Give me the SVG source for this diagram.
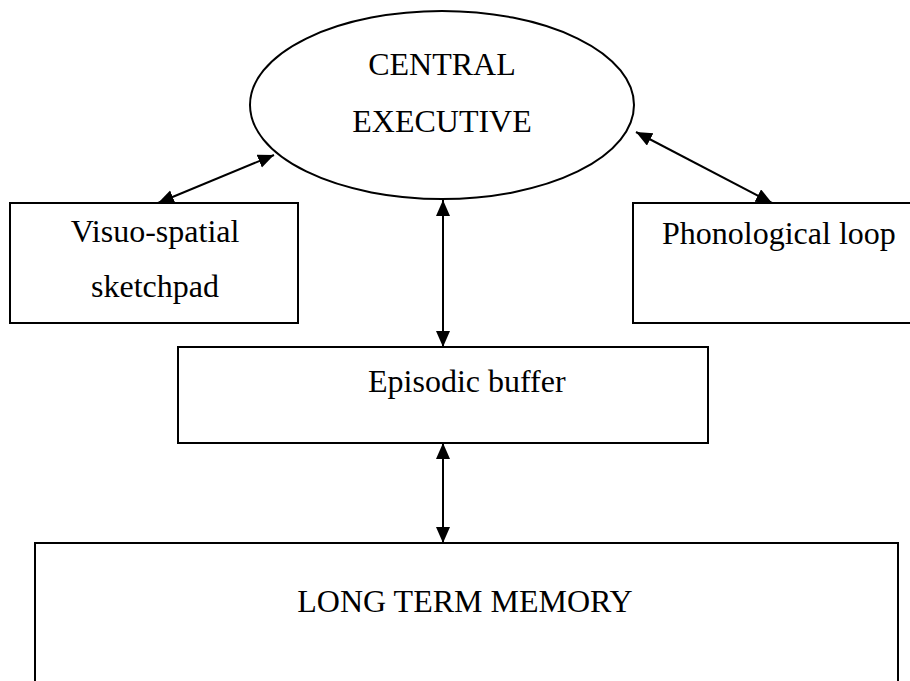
<svg xmlns="http://www.w3.org/2000/svg" width="910" height="681" viewBox="0 0 910 681">
  <style>
    .box { fill: #ffffff; stroke: #000000; stroke-width: 2; }
    .lbl { font-family: "Liberation Serif", "Times New Roman", serif; font-size: 32px; fill: #000000; }
    .link { stroke: #000000; stroke-width: 2; fill: none; marker-start: url(#head); marker-end: url(#head); }
  </style>
  <defs>
    <marker id="head" markerUnits="userSpaceOnUse" markerWidth="18" markerHeight="16" refX="16" refY="7" orient="auto-start-reverse">
      <path d="M0,0 L16,7 L0,14 z" fill="#000000"/>
    </marker>
  </defs>
  <rect width="910" height="681" fill="#ffffff"/>

  <g id="central-executive">
    <ellipse class="box" cx="442" cy="105" rx="192" ry="94"/>
    <text class="lbl" x="442" y="75" text-anchor="middle">CENTRAL</text>
    <text class="lbl" x="442" y="132" text-anchor="middle">EXECUTIVE</text>
  </g>

  <g id="visuo-spatial-sketchpad">
    <rect class="box" x="10" y="203" width="288" height="120"/>
    <text class="lbl" x="155" y="242" text-anchor="middle">Visuo-spatial</text>
    <text class="lbl" x="155" y="297" text-anchor="middle">sketchpad</text>
  </g>

  <g id="phonological-loop">
    <rect class="box" x="633" y="203" width="300" height="120"/>
    <text class="lbl" x="662" y="244">Phonological loop</text>
  </g>

  <g id="episodic-buffer">
    <rect class="box" x="178" y="347" width="530" height="96"/>
    <text class="lbl" x="368" y="392">Episodic buffer</text>
  </g>

  <g id="long-term-memory">
    <rect class="box" x="35" y="543" width="863" height="160"/>
    <text class="lbl" x="465" y="612" text-anchor="middle">LONG TERM MEMORY</text>
  </g>

  <g id="connectors">
    <line class="link" x1="158" y1="203" x2="274" y2="155"/>
    <line class="link" x1="636" y1="132" x2="772" y2="203"/>
    <line class="link" x1="443" y1="200" x2="443" y2="347"/>
    <line class="link" x1="443" y1="443" x2="443" y2="543"/>
  </g>
</svg>
